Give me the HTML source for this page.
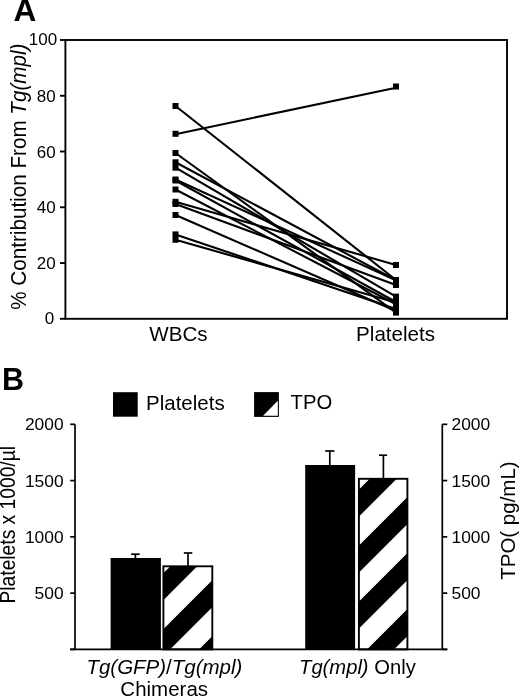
<!DOCTYPE html>
<html><head><meta charset="utf-8"><style>
html,body{margin:0;padding:0;background:#fff;width:520px;height:696px;overflow:hidden}
svg{display:block;filter:grayscale(1)}
text{font-family:"Liberation Sans",sans-serif;fill:#000}
</style></head><body>
<svg width="520" height="696" viewBox="0 0 520 696">
<defs>
<pattern id="hatch" patternUnits="userSpaceOnUse" x="0" y="0" width="56" height="56">
<rect width="56" height="56" fill="#fff"/>
<polygon points="8.5,0 35.5,0 0,35.5 0,8.5" fill="#000"/>
<polygon points="56,8.5 56,35.5 35.5,56 8.5,56" fill="#000"/>
</pattern>
</defs>
<!-- Panel A -->
<text x="13.4" y="21.4" font-size="31.6" font-weight="bold">A</text>
<g font-size="17"><text x="54.1" y="323.9" text-anchor="end">0</text><text x="55.6" y="269.14" text-anchor="end">20</text><text x="55.6" y="213.38" text-anchor="end">40</text><text x="55.6" y="157.62" text-anchor="end">60</text><text x="55.6" y="101.86" text-anchor="end">80</text><text x="57.2" y="45.1" text-anchor="end">100</text></g>
<text font-size="21.2" transform="translate(26.3 309.8) rotate(-90) scale(0.975 1)">% Contribution From <tspan font-style="italic">Tg(mpl)</tspan></text>
<g stroke="#000" stroke-width="1.9" fill="none">
<rect x="65.4" y="40" width="441.6" height="278.8"/>
<line x1="60" y1="318.8" x2="65.4" y2="318.8"/><line x1="60" y1="263.04" x2="65.4" y2="263.04"/><line x1="60" y1="207.28" x2="65.4" y2="207.28"/><line x1="60" y1="151.52" x2="65.4" y2="151.52"/><line x1="60" y1="95.76" x2="65.4" y2="95.76"/><line x1="60" y1="40" x2="65.4" y2="40"/>
</g>
<g stroke="#000" stroke-width="2.1" stroke-linecap="butt">
<line x1="175.5" y1="106" x2="396" y2="280"/><line x1="175.5" y1="134.2" x2="396" y2="87.8"/><line x1="175.5" y1="153" x2="396" y2="312.6"/><line x1="175.5" y1="162.3" x2="396" y2="280.2"/><line x1="175.5" y1="167.7" x2="396" y2="296.6"/><line x1="175.5" y1="179.5" x2="396" y2="280.4"/><line x1="175.5" y1="180.5" x2="396" y2="302"/><line x1="175.5" y1="189.5" x2="396" y2="304.2"/><line x1="175.5" y1="201.8" x2="396" y2="265"/><line x1="175.5" y1="204" x2="396" y2="285"/><line x1="175.5" y1="215" x2="396" y2="311"/><line x1="175.5" y1="234.4" x2="396" y2="309"/><line x1="175.5" y1="239.8" x2="396" y2="302.4"/>
</g>
<g fill="#000"><rect x="172.5" y="103" width="6.0" height="6.0"/><rect x="393" y="277" width="6.0" height="6.0"/><rect x="172.5" y="130.8" width="6.0" height="6.0"/><rect x="393" y="83.5" width="6.0" height="6.0"/><rect x="172.5" y="150" width="6.0" height="6.0"/><rect x="393" y="309.6" width="6.0" height="6.0"/><rect x="172.5" y="159.3" width="6.0" height="6.0"/><rect x="393" y="277.2" width="6.0" height="6.0"/><rect x="172.5" y="164.7" width="6.0" height="6.0"/><rect x="393" y="293.6" width="6.0" height="6.0"/><rect x="172.5" y="176.5" width="6.0" height="6.0"/><rect x="393" y="277.4" width="6.0" height="6.0"/><rect x="172.5" y="177.5" width="6.0" height="6.0"/><rect x="393" y="299" width="6.0" height="6.0"/><rect x="172.5" y="186.5" width="6.0" height="6.0"/><rect x="393" y="301.2" width="6.0" height="6.0"/><rect x="172.5" y="198.8" width="6.0" height="6.0"/><rect x="393" y="262" width="6.0" height="6.0"/><rect x="172.5" y="201" width="6.0" height="6.0"/><rect x="393" y="282" width="6.0" height="6.0"/><rect x="172.5" y="212" width="6.0" height="6.0"/><rect x="393" y="308" width="6.0" height="6.0"/><rect x="172.5" y="231.4" width="6.0" height="6.0"/><rect x="393" y="306" width="6.0" height="6.0"/><rect x="172.5" y="236.8" width="6.0" height="6.0"/><rect x="393" y="299.4" width="6.0" height="6.0"/></g>
<text x="178.4" y="340.8" font-size="20.6" text-anchor="middle">WBCs</text>
<text x="395.6" y="340.8" font-size="20.6" text-anchor="middle">Platelets</text>

<!-- Panel B -->
<text x="2" y="390.2" font-size="30.5" font-weight="bold">B</text>
<rect x="113" y="392.2" width="24.7" height="24.5" fill="#000"/>
<text x="146" y="410" font-size="20.5">Platelets</text>
<rect x="254.1" y="392.1" width="24.8" height="24.8" fill="#000"/><polygon points="263.1,415.8 277.8,400.7 277.8,415.8" fill="#fff"/>
<text x="290.5" y="409.4" font-size="20.3">TPO</text>

<g font-size="17.4"><text x="63.6" y="599.23" text-anchor="end">500</text><text x="451.5" y="599.23">500</text><text x="63.6" y="542.95" text-anchor="end">1000</text><text x="451.5" y="542.95">1000</text><text x="63.6" y="486.68" text-anchor="end">1500</text><text x="451.5" y="486.68">1500</text><text x="63.6" y="430.4" text-anchor="end">2000</text><text x="451.5" y="430.4">2000</text></g>
<text font-size="22" transform="translate(15.2 603.5) rotate(-90) scale(0.875 1)">Platelets x 1000/µl</text>
<text font-size="20.5" transform="translate(515.2 579.8) rotate(-90)">TPO( pg/mL)</text>

<!-- bars -->
<rect x="110.6" y="558" width="50.3" height="91.4" fill="#000"/>
<rect x="163.4" y="566.3" width="48.9" height="83.1" fill="url(#hatch)" stroke="#000" stroke-width="1.9"/>
<rect x="305.2" y="465" width="49.9" height="184.4" fill="#000"/>
<rect x="358.9" y="478.8" width="48.5" height="170.6" fill="url(#hatch)" stroke="#000" stroke-width="1.9"/>

<g stroke="#000" stroke-width="1.7" fill="none">
<line x1="75" y1="424.3" x2="75" y2="649.4"/>
<line x1="442.3" y1="424.3" x2="442.3" y2="649.4"/>
<line x1="70.2" y1="649.4" x2="447.3" y2="649.4"/>
<line x1="70.2" y1="649.4" x2="75" y2="649.4"/><line x1="442.3" y1="649.4" x2="447.3" y2="649.4"/><line x1="70.2" y1="593.12" x2="75" y2="593.12"/><line x1="442.3" y1="593.12" x2="447.3" y2="593.12"/><line x1="70.2" y1="536.85" x2="75" y2="536.85"/><line x1="442.3" y1="536.85" x2="447.3" y2="536.85"/><line x1="70.2" y1="480.58" x2="75" y2="480.58"/><line x1="442.3" y1="480.58" x2="447.3" y2="480.58"/><line x1="70.2" y1="424.3" x2="75" y2="424.3"/><line x1="442.3" y1="424.3" x2="447.3" y2="424.3"/>
<!-- error bars -->
<line x1="135.4" y1="554.2" x2="135.4" y2="558"/>
<line x1="131.1" y1="554.2" x2="139.7" y2="554.2"/>
<line x1="188" y1="553" x2="188" y2="566"/>
<line x1="183.8" y1="553" x2="192.3" y2="553"/>
<line x1="329.8" y1="451" x2="329.8" y2="465"/>
<line x1="325.2" y1="451" x2="334.5" y2="451"/>
<line x1="383.4" y1="455.2" x2="383.4" y2="478"/>
<line x1="379" y1="455.2" x2="387.1" y2="455.2"/>
</g>

<text x="164.4" y="674.2" font-size="20.5" text-anchor="middle"><tspan font-style="italic">Tg(GFP)</tspan>/<tspan font-style="italic">Tg(mpl)</tspan></text>
<text x="164.2" y="696" font-size="20.5" text-anchor="middle">Chimeras</text>
<text x="357.4" y="674.2" font-size="20.2" text-anchor="middle"><tspan font-style="italic">Tg(mpl)</tspan> Only</text>
</svg>
</body></html>
